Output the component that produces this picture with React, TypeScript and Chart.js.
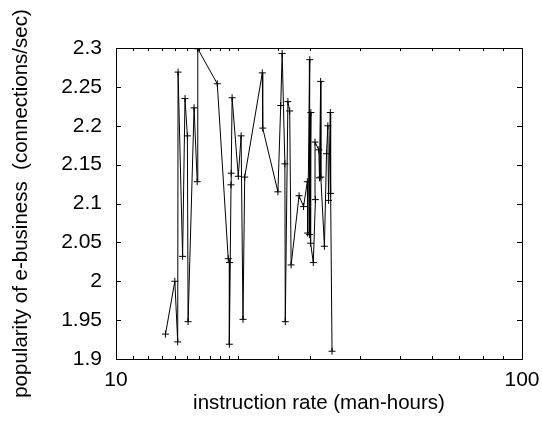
import React, { useEffect, useRef } from "react";
import { Chart, registerables } from "chart.js";

Chart.register(...registerables);

const xValues = [
  13.24, 13.96, 14.19, 14.22, 14.59, 14.79, 14.99, 15.05, 15.57, 15.85, 15.9,
  17.76, 18.9, 19.05, 19.02, 19.2, 19.22, 19.32, 20.01, 20.33, 20.55, 20.75,
  22.93, 22.98, 25.05, 25.45, 25.66, 26.06, 26.12, 26.51, 26.78, 27.0, 28.24,
  28.97, 29.6, 29.65, 30.01, 29.95, 30.2, 30.15, 30.62, 30.99, 30.92, 31.59,
  31.71, 31.92, 31.95, 32.61, 33.0, 33.25, 33.38, 33.72, 33.78, 34.05,
];
const yValues = [
  1.932, 2.0, 1.922, 2.269, 2.032, 2.235, 2.187, 1.948, 2.223, 2.128, 2.299,
  2.254, 2.029, 2.024, 1.919, 2.124, 2.139, 2.236, 2.135, 2.187, 1.951, 2.134,
  2.268, 2.197, 2.115, 2.226, 2.293, 2.151, 1.948, 2.231, 2.219, 2.021, 2.11,
  2.096, 2.128, 2.062, 2.285, 2.06, 2.217, 2.049, 2.024, 2.105, 2.179, 2.169,
  2.133, 2.257, 2.134, 2.045, 2.164, 2.2, 2.104, 2.217, 2.113, 1.91,
];
const xTickLabels = [10, 100];
const yMin = 1.9;
const yMax = 2.3;
const yStep = 0.05;
const xTitle = "instruction rate (man-hours)";
const yTitle = "popularity of e-business  (connections/sec)";

const FONT = "Liberation Sans, Arial, Helvetica, sans-serif";

const framePlugin = {
  id: "frame",
  afterDraw(chart: any) {
    const { ctx, chartArea } = chart;
    const { left, right, top, bottom } = chartArea;
    const xs = chart.scales.x;
    const ys = chart.scales.y;
    ctx.save();
    ctx.strokeStyle = "#000";
    ctx.lineWidth = 1;
    ctx.beginPath();
    xs.ticks.forEach((t: any) => {
      const v = t.value;
      const px = Math.round(xs.getPixelForValue(v)) + 0.5;
      const major = xTickLabels.includes(v);
      const len = major ? 5 : 3;
      ctx.moveTo(px, bottom);
      ctx.lineTo(px, bottom - len);
      ctx.moveTo(px, top);
      ctx.lineTo(px, top + len);
    });
    ys.ticks.forEach((t: any) => {
      const py = Math.round(ys.getPixelForValue(t.value)) + 0.5;
      ctx.moveTo(left, py);
      ctx.lineTo(left + 5, py);
      ctx.moveTo(right, py);
      ctx.lineTo(right - 5, py);
    });
    ctx.stroke();
    ctx.strokeRect(Math.round(left) + 0.5, Math.round(top) + 0.5, Math.round(right - left), Math.round(bottom - top));
    ctx.fillStyle = "#000";
    ctx.font = `20.5px ${FONT}`;
    ctx.textAlign = "center";
    ctx.textBaseline = "alphabetic";
    ctx.fillText(xTitle, (left + right) / 2, 409);
    ctx.translate(27, (top + bottom) / 2);
    ctx.rotate(-Math.PI / 2);
    ctx.fillText(yTitle, 0, 0);
    ctx.restore();
  },
};

export default function App() {
  const ref = useRef<HTMLCanvasElement | null>(null);
  useEffect(() => {
    document.body.style.margin = "0";
    const canvas = ref.current!;
    const data = xValues.map((x, i) => ({ x, y: yValues[i] }));
    const chart = new Chart(canvas, {
      type: "line",
      data: {
        datasets: [
          {
            data,
            borderColor: "#000",
            borderWidth: 1,
            pointStyle: "cross",
            pointRadius: 3.5,
            pointBorderColor: "#000",
            pointBorderWidth: 1,
            pointBackgroundColor: "#000",
            tension: 0,
            fill: false,
          },
        ],
      },
      options: {
        animation: false,
        responsive: false,
        devicePixelRatio: 1,
        events: [],
        layout: { padding: { top: 48, right: 20, left: 0, bottom: 0 } },
        plugins: { legend: { display: false }, tooltip: { enabled: false } },
        scales: {
          x: {
            type: "logarithmic",
            min: 10,
            max: 100,
            position: "bottom",
            grid: { display: false, drawTicks: false },
            border: { display: false },
            ticks: {
              autoSkip: false,
              maxRotation: 0,
              padding: 9,
              color: "#000",
              font: { family: FONT, size: 21 },
              callback: (v: any) => (xTickLabels.includes(Number(v)) ? String(v) : ""),
            },
            afterFit: (s: any) => {
              s.height = 62;
              s.paddingLeft = 0;
              s.paddingRight = 0;
            },
          },
          y: {
            type: "linear",
            min: yMin,
            max: yMax,
            grid: { display: false, drawTicks: false },
            border: { display: false },
            ticks: {
              stepSize: yStep,
              padding: 14,
              color: "#000",
              font: { family: FONT, size: 21 },
              callback: (v: any) => String(Number(Number(v).toFixed(2))),
            },
            afterFit: (s: any) => {
              s.width = 116;
              s.paddingTop = 0;
              s.paddingBottom = 0;
            },
          },
        },
      },
      plugins: [framePlugin],
    });
    return () => chart.destroy();
  }, []);
  return <canvas ref={ref} width={542} height={421} style={{ display: "block" }} />;
}
